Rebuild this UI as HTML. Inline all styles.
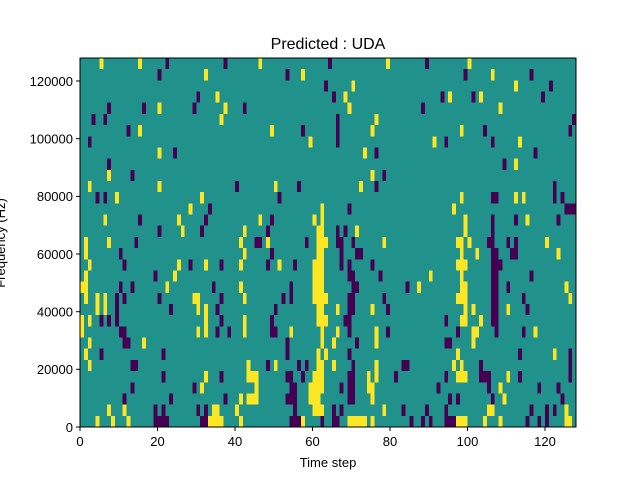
<!DOCTYPE html>
<html><head><meta charset="utf-8"><style>
html,body{margin:0;padding:0;background:#fff;}
body{width:640px;height:480px;position:relative;overflow:hidden;font-family:"Liberation Sans","DejaVu Sans",sans-serif;}
</style></head><body>
<svg width="640" height="480" xmlns="http://www.w3.org/2000/svg" style="position:absolute;left:0;top:0">
<text x="328" y="49" font-size="16" text-anchor="middle" fill="#000">Predicted : UDA</text>
<svg id="hm" x="80" y="58" width="496" height="369" viewBox="0 0 128 33" preserveAspectRatio="none" shape-rendering="crispEdges">
<rect x="0" y="0" width="128" height="33" fill="#21918c"/>
<g id="cells"></g>
</svg>
<rect x="80" y="58" width="496" height="369" fill="none" stroke="#000" stroke-width="1"/>
<g font-size="13" fill="#000" text-anchor="middle">
<line x1="80" y1="427" x2="80" y2="431" stroke="#000"/><text x="80" y="446">0</text>
<line x1="157.5" y1="427" x2="157.5" y2="431" stroke="#000"/><text x="157.5" y="446">20</text>
<line x1="235" y1="427" x2="235" y2="431" stroke="#000"/><text x="235" y="446">40</text>
<line x1="312.5" y1="427" x2="312.5" y2="431" stroke="#000"/><text x="312.5" y="446">60</text>
<line x1="390" y1="427" x2="390" y2="431" stroke="#000"/><text x="390" y="446">80</text>
<line x1="467.5" y1="427" x2="467.5" y2="431" stroke="#000"/><text x="467.5" y="446">100</text>
<line x1="545" y1="427" x2="545" y2="431" stroke="#000"/><text x="545" y="446">120</text>
<text x="328" y="467">Time step</text>
</g>
<g font-size="13" fill="#000" text-anchor="end">
<line x1="76" y1="427" x2="80" y2="427" stroke="#000"/><text x="73" y="432">0</text>
<line x1="76" y1="369.3" x2="80" y2="369.3" stroke="#000"/><text x="73" y="374">20000</text>
<line x1="76" y1="311.7" x2="80" y2="311.7" stroke="#000"/><text x="73" y="316.5">40000</text>
<line x1="76" y1="254" x2="80" y2="254" stroke="#000"/><text x="73" y="259">60000</text>
<line x1="76" y1="196.4" x2="80" y2="196.4" stroke="#000"/><text x="73" y="201">80000</text>
<line x1="76" y1="138.7" x2="80" y2="138.7" stroke="#000"/><text x="73" y="143.5">100000</text>
<line x1="76" y1="81" x2="80" y2="81" stroke="#000"/><text x="73" y="86">120000</text>
</g>
<text transform="translate(9,243) rotate(-90)" font-size="13" text-anchor="middle" fill="#000" x="0" y="-4">Frequency (Hz)</text>
</svg>
<script>
var rows=[
"Y4 Y8 Y12 P19-22 P31-32 Y33-36 Y41 P54-56 Y57 P62 P65-66 Y69-73 Y75 P85 P88 P90 P94-96 Y97-99 Y104 Y108 P115 P118 P120 Y125-126",
"Y7 Y11 P19 P21 P30 P32 Y34-35 Y40 P55 Y60-62 P65 P67 Y78 P83 P89 P94 Y105-106 P116 P120 P122 Y125",
"P11 P23 P37 Y41 Y43-45 P53-55 Y59-61 P69-70 Y75 P95 P97 P106 Y109 P124",
"P13 P29 Y31 Y45 P54-55 Y59-62 P67 P69-70 Y74-75 P92 P105 Y108 P118 P123",
"P21 Y32 P36 Y43-45 P53-54 P57 Y60 Y61-62 P69-70 Y74 Y76 P81 P94 Y97-99 P103-105 Y110 P113 P126",
"Y2 P13-14 Y43 P48 Y50 P56 P58 Y61-62 Y65 P70 Y76 P83-84 Y96 Y98 P103 P126",
"Y1 P5 P21 P53 Y61 Y63 P69 Y97 P113 Y122 P126",
"Y2 P11-12 Y16 P53 Y62 Y65 P71 Y76 P94-95 Y101",
"Y0 P10-11 Y30 Y32 P35 P38 Y42 P49-50 Y54 Y62 Y66 P69 Y76 P79 P97 Y101-102 P107 P114 Y117",
"Y0 Y2 P5 P7 P9 Y32 P36 Y42 P49 Y61-62 Y63 P68-69 P94 Y98-99 Y103 P106-107",
"Y4 Y6 P9 P23 Y30 Y32 P35 P50 Y61-62 Y66 P69-70 Y75 P79 Y99 Y101 P106-107 Y110 P115",
"Y1 Y4 Y6 P9 P11 P20 Y29-30 P36 Y42 P52 P54 Y60-62 Y63 P69-70 P78 Y97-99 P106-107 P114 Y126",
"Y0-1 P10 P13 Y22 P34 Y41 P54 Y60-62 P70-71 P84 Y87 Y98-99 P106-107 P110 Y125",
"Y1 P19 Y24 Y60-62 P69-70 P77 Y90 Y98 P106-107 P116",
"Y2 P11 Y25 P28 Y32 P36 Y41 P48 Y51 P55 Y60-62 P67 P69 P75 Y97-99 P106-108",
"Y1 P10 Y42 P49 Y61-62 P67 P71-72 Y98 Y102 P106-107 P111-112 Y123",
"Y1 Y7 P14 Y41 P45-46 Y48 P58 Y61-62 Y63 P66-67 P70 Y78 Y97-98 Y100 P105-106 P110 P112 Y120",
"P20 Y26 P31 Y42 P48 Y61-62 P66 P68 Y71 Y99 P106",
"Y6 P15 Y25 P32 Y46 P49 Y60 Y62 Y99 P106 P112 Y115 P123",
"Y28 P33 Y62 P69 Y96 P125-127",
"P4 P6 Y9 Y31 P51 Y98 P106-107 Y112 Y114 P122 P124",
"Y2 Y20 P40 Y50 P56 Y72 P76 P122",
"Y7 P13 Y75 P78",
"P7 P109 Y112",
"Y20 P24 Y73 P76 P117",
"P2 Y59 Y91 P94 P106 Y113 P66",
"P12 Y15 Y49 P57 P66 Y75 Y98 P104 P126",
"P3 P6 Y36 P66 Y76 P127",
"P7 P16 Y20 P29 Y37 P42 Y69 P88 Y108",
"P30 Y35 P65 Y68 P93 Y95 P101 Y103 P119",
"P63 Y70 Y112 P121",
"P20 Y32 P53 Y57 P99 Y106 P116",
"Y5 Y15 P22 P37 Y46 P64 Y79 P89 Y100"];
var g=document.getElementById('cells'),h="";
rows.forEach(function(s,r){s.split(' ').forEach(function(c){if(!c)return;var col=c[0]=='Y'?'#fde725':'#440154';var p=c.slice(1).split('-');var a=+p[0],b=p.length>1?+p[1]:a;
h+='<rect x="'+a+'" y="'+(32-r)+'" width="'+(b-a+1)+'" height="1" fill="'+col+'"/>';});});
g.innerHTML=h;
</script>
</body></html>
